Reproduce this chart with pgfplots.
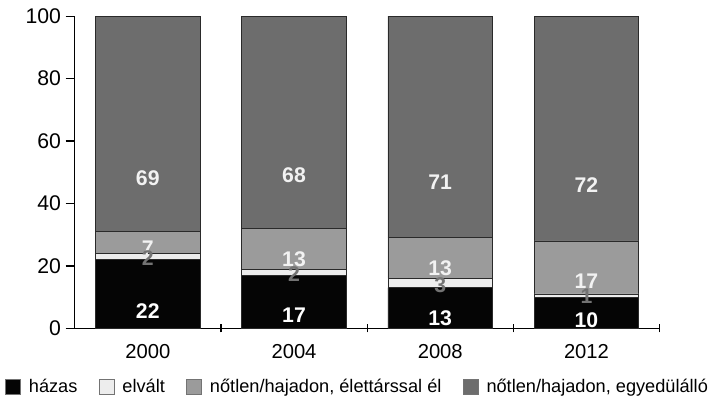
\documentclass[border=0pt]{standalone}
\usepackage{pgfplots}
\pgfplotsset{compat=1.18}
\usepackage{pgfplotstable}
\usepackage{fontspec}
\setmainfont{Liberation Sans}

\definecolor{cHazas}{HTML}{050505}
\definecolor{cElvalt}{HTML}{EDEDED}
\definecolor{cElettars}{HTML}{9B9B9B}
\definecolor{cEgyedul}{HTML}{6D6D6D}
\definecolor{cEdge}{HTML}{2A2A2A}

% shares of each marital status by survey year (percent)
\pgfplotstableread{
x hazas elvalt elettars egyedul
0 22 2 7 69
1 17 2 13 68
2 13 3 13 71
3 10 1 17 72
}\data

\begin{document}
\begin{tikzpicture}
\begin{axis}[
  scale only axis, width=579pt, height=309pt,
  /pgf/number format/assume math mode=true,
  ybar stacked, bar width=0.715,
  xmin=-0.5, xmax=3.5, ymin=0, ymax=100,
  axis x line=bottom, axis y line=left,
  axis line style={-, line width=1.3pt},
  xtick={0,1,2,3}, xticklabels={2000,2004,2008,2012},
  x tick style={draw=none},
  extra x ticks={0.5,1.5,2.5,3.5},
  extra x tick labels={},
  extra x tick style={x tick style={draw=black, line width=1.2pt}, tick align=center, major tick length=8pt},
  ytick={0,20,...,100},
  y tick style={line width=1.3pt, black},
  tick align=outside, major tick length=9pt,
  yticklabel style={font=\fontsize{21}{24}\selectfont, xshift=-1pt},
  xticklabel style={font=\fontsize{20}{24}\selectfont, yshift=-3pt},
  point meta=explicit,
  nodes near coords={\pgfmathprintnumber{\pgfplotspointmeta}},
  visualization depends on=rawy \as \rawy,
  % the shift is applied on top of the bar end, so a quarter lands mid-segment
  every node near coord/.append style={anchor=center,
    shift={(axis direction cs:0,-\rawy/4)},
    font=\bfseries\fontsize{21}{24}\selectfont},
  legend columns=4,
  legend cell align=left,
  legend image code/.code={\draw[#1, draw=black!55, line width=0.6pt] (0pt,-7.5pt) rectangle (15pt,7.5pt);},
  legend style={at={(-0.128,-0.188)}, anchor=west, draw=none, fill=none,
    font=\fontsize{18}{21}\selectfont,
    inner xsep=5pt, inner ysep=9pt,
    nodes={inner xsep=0pt},
    /tikz/every odd column/.append style={column sep=8pt},
    /tikz/every even column/.append style={column sep=21pt}},
  after end axis/.code={\path (rel axis cs:0,1) ++(0pt,16pt);},
]
\addplot[fill=cHazas, draw=cEdge, line width=0.6pt,
  every node near coord/.append style={text=white}]
  table[x=x, y=hazas, meta=hazas]{\data};
\addplot[fill=cElvalt, draw=cEdge, line width=0.6pt,
  every node near coord/.append style={text=black!55}]
  table[x=x, y=elvalt, meta=elvalt]{\data};
\addplot[fill=cElettars, draw=cEdge, line width=0.6pt,
  every node near coord/.append style={text=white!95!black}]
  table[x=x, y=elettars, meta=elettars]{\data};
\addplot[fill=cEgyedul, draw=cEdge, line width=0.6pt,
  every node near coord/.append style={text=white!95!black}]
  table[x=x, y=egyedul, meta=egyedul]{\data};
\legend{házas, elvált, {nőtlen/hajadon, élettárssal él}, {nőtlen/hajadon, egyedülálló}}
\end{axis}
\end{tikzpicture}
\end{document}
